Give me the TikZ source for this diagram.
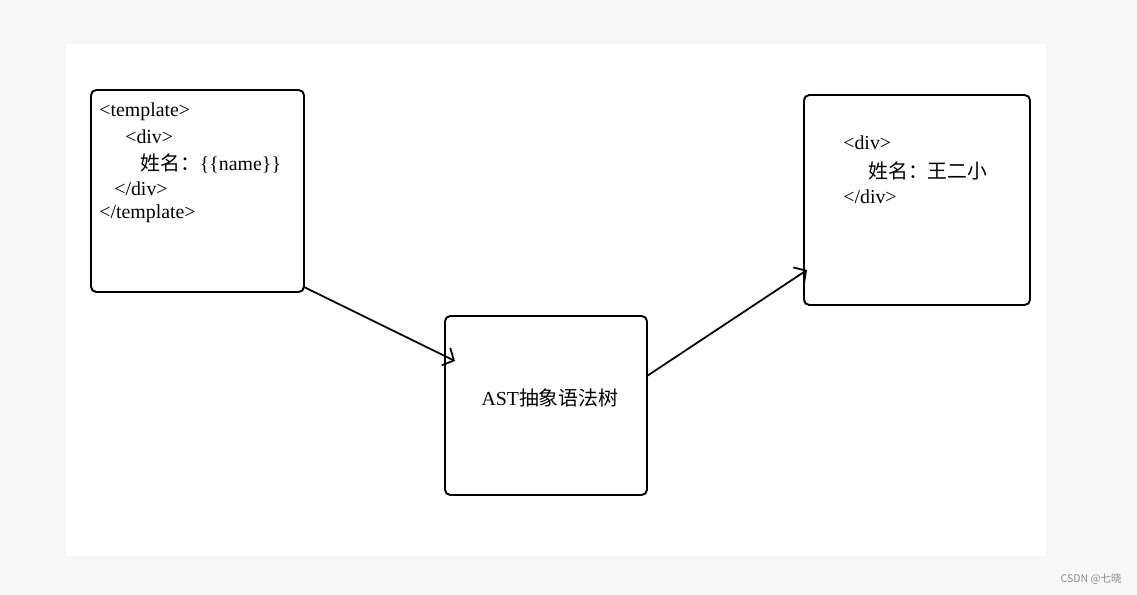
\documentclass[tikz,border=0pt]{standalone}
\usepackage{fontspec}
\setmainfont{Liberation Serif}
\newfontfamily\cjk{Noto Sans CJK SC}
\usetikzlibrary{arrows.meta}
\begin{document}
\begin{tikzpicture}[x=0.02cm,y=-0.02cm,
  box/.style={draw,line width=1.1pt,rounded corners=3pt},
  txt/.style={anchor=west,inner sep=0pt,font=\fontsize{11.3}{13}\selectfont},
  arr/.style={line width=1pt,-{Straight Barb[length=5pt,width=11pt]}}]
\useasboundingbox (0,0) rectangle (1137,595);
\fill[black!3] (0,0) rectangle (1137,595);
\fill[white] (66,44) rectangle (1046,556);
\draw[box] (91,90) rectangle (304,292);
\draw[box] (445,316) rectangle (647,495);
\draw[box] (804,95) rectangle (1030,305);
\coordinate (a1) at (304,287); \coordinate (a2) at (455,361);
\coordinate (b1) at (647,376); \coordinate (b2) at (807,270);
\node[txt] (t1) at (99,112) {<template>};
\node[txt] (t2) at (125,137) {<div>};
\node[txt] (t3) at (140,163) {{\cjk 姓名：}\{\{name\}\}};
\node[txt] (t4) at (114,189) {</div>};
\node[txt] (t5) at (99,214) {</template>};
\node[txt,anchor=center] (m) at (550,398) {AST{\cjk 抽象语法树}};
\node[txt] (r1) at (843,143) {<div>};
\node[txt] (r2) at (868,171) {\cjk 姓名：王二小};
\node[txt] (r3) at (843,197) {</div>};
\draw[arr] (a1) -- (a2);
\draw[arr] (b1) -- (b2);
\node[anchor=east,inner sep=0pt,text=black!45,font=\fontsize{6}{7}\selectfont\cjk] (w) at (1122,579) {CSDN @七晓};
\end{tikzpicture}
\end{document}
